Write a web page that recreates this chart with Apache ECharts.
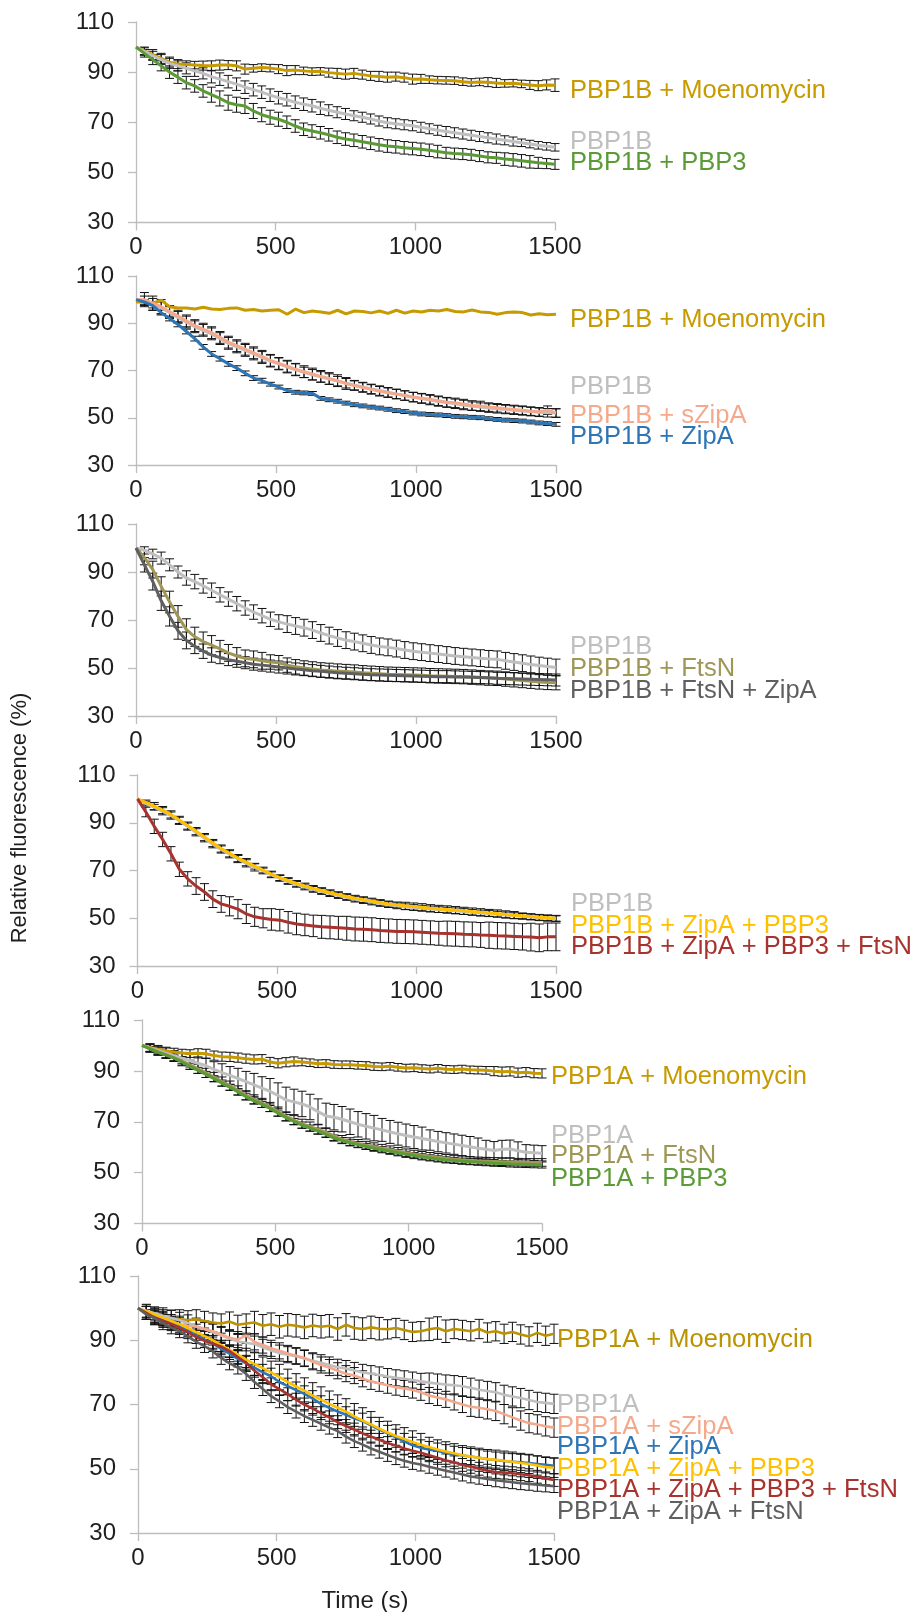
<!DOCTYPE html>
<html><head><meta charset="utf-8">
<script src="https://cdn.jsdelivr.net/npm/echarts@6/dist/echarts.min.js"></script>
<style>html,body{margin:0;padding:0;background:#fff}#c{width:911px;height:1612px}</style>
</head><body><div id="c"></div>
<script>
// ---------- DATA ----------
const timeS = [0,30,60,90,120,150,180,210,240,270,300,330,360,390,420,450,480,510,540,570,600,630,660,690,720,750,780,810,840,870,900,930,960,990,1020,1050,1080,1110,1140,1170,1200,1230,1260,1290,1320,1350,1380,1410,1440,1470,1500];
const xTicks = [0,500,1000,1500];
const yTicks = [30,50,70,90,110];

// Panel 1
const p1Names = ['PBP1B + Moenomycin','PBP1B','PBP1B + PBP3'];
const p1Moeno = [100,98.5,97,95.5,94,93.2,93,92.8,92.6,92.5,92.8,92.8,92.5,91.2,91.5,91.8,91.6,91.2,90.6,90.8,90.5,90.2,90.3,89.8,89.5,89.2,89.5,89,88.5,88.3,88,88.2,87.8,87.2,87.3,87,86.8,86.7,86.6,86.2,85.9,86.1,86,85.7,85.5,85.6,85.3,84.9,84.6,84.9,84.8];
const p1MoenoErr = [0,1.5,2,2,2,1.8,1.5,1.5,1.8,2,2,1.8,2,2,1.5,1.5,1.5,1.8,2,1.8,1.5,1.5,1.5,1.8,2,2,2,1.8,1.8,2,2,1.8,1.8,2,1.8,1.5,1.5,1.5,1.5,1.5,1.5,1.5,1.8,1.8,1.5,1.5,1.5,1.8,2,2,2.5];
const p1Gray = [100,98.2,96.5,95,93.5,92.5,91.5,90.5,89.5,88.2,87.2,86.2,85.2,84,83,82,80.8,79.8,79,78,77.2,76.6,75.6,74.8,74,73.3,72.6,72,71.3,70.5,69.8,69.4,69,68.6,68,67.4,66.8,66.3,65.8,65.3,64.8,64.3,63.8,63.3,62.8,62.3,61.8,61.3,60.8,60.4,60];
const p1GrayErr = [0,1.5,1.8,2,2,2,2.2,2.2,2.2,2.5,2.5,2.5,2.5,2.5,2.5,2.5,2.5,2.5,2.5,2.5,2.5,2.5,2.5,2.2,2.2,2.2,2,2,2,2,2,2,2,2,2,2,2,2,2,2,2,2,2,2,1.8,1.8,1.5,1.5,1.5,1.5,1.5];
const p1Green = [100,97.5,95,92.5,90,88,85.8,84.5,82.5,81,79.5,77.8,77,76.5,74.5,73,72,71.2,70,68.5,67.2,66.5,65.8,65,64,63.3,62.8,62.2,61.6,61,60.5,60.2,59.8,59.5,59.2,58.8,58.3,57.8,57.5,57.3,57,56.5,56,55.8,55.3,55,54.6,54.2,53.8,53.5,53.2];
const p1GreenErr = [0,1.5,2,2,2.5,2.5,2.5,2.5,2.5,3,3,3,3,3,3,2.8,2.8,2.8,2.5,2.5,2.5,2.5,2.5,2.5,2.5,2.5,2.5,2.5,2.5,2.5,2.5,2.5,2.5,2.5,2.5,2.5,2.5,2.2,2.2,2.2,2.2,2.2,2.2,2.2,2.5,2.5,2.5,2.5,2.2,2,2];

// Panel 2
const p2Names = ['PBP1B + Moenomycin','PBP1B','PBP1B + sZipA','PBP1B + ZipA'];
const p2Moeno = [99,99,98.5,99.8,97,96.5,96.5,96,96.8,96,95.8,96.3,96.5,95.5,95.8,95.2,95.5,95.7,93.8,96,94.5,95.2,94.8,94.2,95.5,94,95.2,95,94.4,95.2,94.2,95.5,94.3,95.2,94.8,95.5,95.2,95.8,95,94.8,95.6,94.8,94.6,93.8,94.5,94.8,94.5,93.5,94,93.6,93.8];
const p2Gray = [100,99.5,98,96.5,94.5,92.5,90.5,88.5,87,85.5,83.5,81.5,80,78.5,77,75.5,74,72.8,71.5,70.3,69.2,68.2,67.3,66.4,65.5,64.6,63.8,63,62.2,61.5,60.8,60.1,59.4,58.7,58.1,57.5,56.9,56.4,55.9,55.4,54.9,54.5,54.1,53.8,53.5,53.2,52.9,52.6,52.3,52.1,52];
const p2GrayErr = [0,2,2.5,2.5,2.5,2.5,2.5,2.5,2.5,2.5,2.5,2.5,2.5,2.5,2.5,2.5,2.5,2.5,2.5,2.5,2.2,2.2,2.2,2.2,2,2,2,2,2,2,2,2,2,2,2,2,2,2,2,2,1.8,1.8,1.8,1.8,1.8,1.8,1.8,1.8,1.8,1.8,1.8];
const p2Szipa = [100,100,98.5,97,95,93,91,89,87.5,86,84,82,80.5,79,77.5,76,74.3,73,71.8,70.5,69.5,68.5,67.5,66.6,65.7,64.5,63.6,62.8,62,61.2,60.6,60,59.4,58.8,58.3,57.8,57.2,56.6,56.3,55.8,55.2,55,54.5,54.2,53.8,53.5,53.2,52.8,52.5,53.2,52];
const p2SzipaErr = [0,3,3,3,2.5,2.5,2.5,2.5,2.5,2.5,2.5,2.5,2.5,2.5,2.5,2.5,2.5,2.5,2.5,2.5,2.5,2.5,2.5,2.5,2.5,2.5,2,2,2,2,2,2,2,2,2,2,2,2,2,2,2,2,1.8,1.8,1.8,1.8,1.8,1.8,1.8,1.8,1.8];
const p2Zipa = [100,99,97.5,94.5,92,89.5,86.5,83.5,80,77,75,72.8,71,68.8,66.8,65.7,64.2,63,61.5,60.8,60.5,60.3,58.2,57.6,57,56.2,55.5,55,54.5,54.1,53.6,53,52.6,52,51.6,51.4,51.2,50.9,50.6,50.4,50.2,50,49.6,49.3,49,48.8,48.6,48.2,47.8,47.5,47.2];
const p2ZipaErr = [0,1,1,1,1,1,1,1,1,1,1,1,1,1,1,1,0.8,0.8,0.8,0.8,0.8,0.8,0.8,0.8,0.8,0.8,0.8,0.8,0.8,0.8,0.8,0.8,0.8,0.8,0.8,0.8,0.8,0.8,0.8,0.8,0.8,0.8,0.8,0.8,0.8,0.8,0.8,0.8,0.8,0.8,0.8];

// Panel 3
const p3Names = ['PBP1B','PBP1B + FtsN','PBP1B + FtsN + ZipA'];
const p3Gray = [100,99,97.5,95.8,93,90,87.5,86,84.2,82.4,80.5,78.7,76.8,75,73.3,71.8,70.3,69.2,68.3,67.5,66.8,65.8,64.6,63.5,62.5,61.6,61,60.3,59.6,59,58.6,58.1,57.5,57,56.6,56.2,55.8,55.4,55,54.7,54.4,54.1,53.8,53.6,53,52.5,52,51.5,51,50.6,50.2];
const p3GrayErr = [0,1.5,2,2.5,2.5,2.5,3,3,3,3,3,3,3,3,3,3,3,3,3.5,3.5,3.5,3.5,3.5,3.5,3.5,3.5,3.5,3.5,3.5,3.5,3.5,3.5,3.5,3.5,3.5,3.5,3.5,3.5,3.5,3.5,3.5,3.5,3.5,3.5,3.5,3.5,3.5,3.5,3.5,3.5,3.5];
const p3Ftsn = [100,96,91,84,77.5,71.5,66,63,61,59.5,58,56.3,55,54,53.6,53,52.5,52.2,51.2,50.5,50,49.6,49.2,49,48.7,48.5,48.3,48,47.8,47.6,47.4,47.3,47.2,47.1,47,46.8,46.7,46.6,46.5,46.4,46.2,46,45.8,45.7,45.4,45.1,44.8,44.5,44.2,44,43.9];
const p3FtsnErr = [0,3,3.5,4,4.5,4.5,4.5,4,4,4,3.5,3.5,3.5,3.5,3.5,3.5,3,3,3,3,3,3,3,3,3,3,3,3,3,3,3,3,3,3,3,3,3,3,3,3,3,3,3,3,3,3,3,3,3,3,3];
const p3FtsnZipa = [100,93,86,78,71.5,65.5,61.5,59,57,55.4,54.3,53.5,52.8,52.2,51.6,51.2,50.8,50.4,50,49.6,49.3,48.9,48.6,48.3,48,47.8,47.6,47.4,47.2,47.1,47,46.9,46.8,46.7,46.6,46.5,46.4,46.4,46.3,46.2,46.1,46,45.9,45.7,45.6,45.5,45.4,45.3,45.2,45.1,45];
const p3FtsnZipaErr = [0,3,3.5,4,4,3.5,3.5,3,3,3,2.5,2.5,2.5,2.5,2.5,2.5,2.5,2.5,2.5,2.5,2.5,2.5,2.5,2.5,2.5,2.5,2.5,2.5,2.5,2.5,2.5,2.5,2.5,2.5,2.5,2.5,2.5,2.5,2.5,2.5,2.5,2.5,2.5,2.5,2.5,2.5,2.5,2.5,2.5,2.5,2.5];

// Panel 4
const p4Names = ['PBP1B','PBP1B + ZipA + PBP3','PBP1B + ZipA + PBP3 + FtsN'];
const p4Gray = [100,98,96.5,94.8,93,90.8,88.4,86,83.5,81,78.8,76.8,74.8,73,71.3,69.8,68.2,66.7,65.4,64.2,63.1,62.1,61.2,60.3,59.5,58.7,58,57.4,56.8,56.2,55.7,55.2,54.8,54.5,54.2,53.9,53.6,53.4,53.1,52.8,52.5,52.2,52,51.7,51.4,51.1,50.8,50.5,50.2,50,49.8];
const p4GrayErr = [0,1,1.2,1.5,1.5,1.5,1.5,1.5,1.5,1.5,1.5,1.5,1.5,1.5,1.5,1.2,1.2,1.2,1.2,1.2,1.2,1.2,1.2,1.2,1.2,1.2,1.2,1.2,1.2,1.2,1.2,1.2,1.2,1.2,1.2,1.2,1.2,1.2,1.2,1.2,1.2,1.2,1.2,1.2,1.2,1.2,1.2,1.2,1.2,1.2,1.2];
const p4ZipaPbp3 = [100,98.5,97,95.3,93.5,91.2,88.8,86.5,84,81.5,79.2,77.2,75.2,73.5,71.8,70.2,68.5,67,65.8,64.6,63.5,62.5,61.6,60.7,59.9,59.1,58.4,57.8,57.2,56.6,56,55.6,55.2,54.9,54.6,54.2,53.9,53.7,53.4,53.1,52.8,52.5,52.2,52,51.6,51.3,51,50.7,50.4,50.2,50];
const p4ZipaPbp3Err = [0,1,1.5,1.5,1.5,1.5,1.5,1.5,1.5,1.5,1.5,1.5,1.5,1.5,1.2,1.2,1.2,1.2,1.2,1.2,1.2,1.2,1.2,1.2,1.2,1.2,1.2,1.2,1.2,1.2,1.2,1.2,1.5,1.5,1.5,1.5,1.5,1.5,1.5,1.5,1.5,1.5,1.5,1.5,1.5,1.5,1.2,1.2,1.2,1.2,1.2];
const p4Red = [100,94.5,88.5,83,77,70.5,66.5,63.5,61,58,56,55,53.8,51.8,50.6,50,49.5,49.2,48.3,47.6,47.2,46.8,46.4,46.2,46,45.8,45.5,45.4,45.2,44.9,44.7,44.5,44.4,44.3,44.1,43.9,43.7,43.6,43.5,43.3,43.2,43,42.9,42.7,42.6,42.4,42.2,42.1,41.8,42.2,42.2];
const p4RedErr = [0,2,3,3,3,3,3,3.5,3.5,3.5,3.5,4,4,4,4,4,4.5,4.5,4.5,4.5,4.5,4.5,4.8,4.8,4.8,5,5,5,5,5,5,5,5,5,5,5,5,5.2,5.2,5.2,5.2,5.2,5.5,5.5,5.5,5.5,5.5,5.8,5.8,5.8,5.8];

// Panel 5
const p5Names = ['PBP1A + Moenomycin','PBP1A','PBP1A + FtsN','PBP1A + PBP3'];
const p5Moeno = [100,99.2,98.5,97.8,97.4,97,96.8,96.9,96.7,96,95.6,95.5,95.2,94.8,94.5,94.6,93.5,93,93.4,93.7,93.5,93.2,92.8,92.9,92.5,92.4,92.4,92.2,92.1,91.7,91.6,91.8,91.4,91.1,91.2,90.9,90.7,91,90.6,90.5,90.7,90.4,90.3,90.2,89.9,89.7,89.8,89.3,89.5,89.1,89];
const p5MoenoErr = [0,1.5,1.5,1.5,1.5,1.5,1.5,1.8,1.8,1.8,1.8,1.8,1.8,1.8,1.8,1.8,1.8,1.8,1.8,1.8,1.5,1.5,1.5,1.5,1.5,1.5,1.5,1.5,1.5,1.5,1.5,1.5,1.5,1.5,1.5,1.5,1.5,1.5,1.5,1.5,1.5,1.5,1.5,1.5,1.8,1.8,1.8,1.8,1.8,1.8,1.8];
const p5Gray = [100,99,98,97,96,95,94,93,92,90.6,89.3,88.2,87,85.8,84.5,83.2,82,80.3,78.6,77.8,77,75.8,74,72.3,71.8,71,70,69,68.2,67.5,66.8,66,65.3,64.6,64,63.4,62.8,62.2,61.7,61.2,60.7,60.2,59.6,59.2,58.7,59.2,59.3,58.6,58,57.8,57.6];
const p5GrayErr = [0,1.5,1.5,2,2,2,2.5,2.5,3,3,3.5,3.5,4,4,4.5,4.5,5,5,5,5,5,5,5,5,5,5,5,5,5,5,4.5,4.5,4.5,4.5,4.5,4.5,4,4,4,4,4,4,4,3.5,3.5,3.5,3.5,3.5,3,3,3];
const p5Ftsn = [100,98.8,97.6,96.4,95.2,93.8,92.4,90.8,89.2,87.6,85.8,84.2,82.3,80.4,78.8,77.4,75.8,74,72.1,70.6,69.2,68.1,67,65.8,64.4,63.1,62.2,61.5,60.8,60.2,59.6,59,58.4,57.8,57.3,56.8,56.4,56,55.6,55.3,55,54.8,54.6,54.5,54.4,54.3,54.2,54.1,54,54,54];
const p5FtsnErr = [0,1.5,1.5,1.5,1.5,1.8,1.8,1.8,1.8,1.8,1.8,1.8,1.8,1.8,1.8,1.8,1.8,1.8,1.8,1.8,1.8,1.8,1.8,1.8,1.8,1.5,1.5,1.5,1.5,1.5,1.5,1.5,1.5,1.5,1.5,1.5,1.5,1.5,1.5,1.5,1.5,1.5,1.5,1.5,1.5,1.5,1.5,1.5,1.5,1.5,1.5];
const p5Pbp3 = [100,98.6,97.3,96.2,95,93.5,91.8,90.2,88.6,86.9,85.2,83.5,81.7,79.8,78.2,76.8,75.2,73.4,71.6,70.1,68.7,67.5,66.3,65,63.6,62.6,61.7,61,60.3,59.6,59,58.4,57.8,57.2,56.7,56.2,55.8,55.4,55,54.8,54.5,54.3,54.1,53.9,53.7,53.6,53.4,53.3,53.2,53.1,53];
const p5Pbp3Err = [0,1,1,1,1.2,1.2,1.2,1.2,1.2,1.2,1.2,1.2,1.2,1.2,1.2,1.2,1.2,1.2,1.2,1.2,1.2,1.2,1.2,1.2,1.2,1.2,1.2,1.2,1.2,1.2,1.2,1.2,1.2,1.2,1.2,1.2,1.2,1.2,1.2,1.2,1.2,1.2,1.2,1.2,1.2,1.2,1.2,1.2,1.2,1.2,1.2];

// Panel 6
const p6Names = ['PBP1A + Moenomycin','PBP1A','PBP1A + sZipA','PBP1A + ZipA','PBP1A + ZipA + PBP3','PBP1A + ZipA + PBP3 + FtsN','PBP1A + ZipA + FtsN'];
const p6Moeno = [100,98.5,97.5,97,96.8,96.5,96.2,96.5,96,95.5,95.2,95.8,94.8,95.2,95.5,94.5,95,94.2,94.8,94.5,94,94.6,94.2,94.5,93.5,94.8,93.8,93.5,94,93.6,93.4,93.8,93.2,92.6,92.8,93.4,93.8,92.8,93.5,93.2,92.8,93.5,92.4,92.8,92,92.6,91.8,91.2,92.3,91.4,92];
const p6MoenoErr = [0,2,2.5,2.5,2.5,3,3,3,3,3,3,3,3,3,3.5,3.5,3.5,3.5,3.5,3.5,3.5,3.5,3.5,3.5,3.5,3.5,3.5,3.5,3.5,3.5,3,3,3,3,3,3.5,3.5,3.5,3,3,3,3,3,3,3,3,3,3,3,3,3];
const p6Gray = [100,99.2,98.4,97.6,96.9,96.2,95.4,94.4,93.5,92.5,91.5,90.5,89.6,89.2,88.8,87.8,86.8,86,85.5,85,84.3,83.6,83,82.3,81.6,81.2,80.6,80,79.6,79.2,78.7,78.3,78,77.6,77.2,76.8,76.5,76.2,76,75.7,75.2,74.6,74.2,73.8,73,72.5,72,71.4,70.8,70.5,70.2];
const p6GrayErr = [0,2,2,2.5,2.5,2.5,2.5,2.5,2.5,2.5,2.5,2.5,2.5,2.5,2.5,2.5,2.5,2.5,2.5,2.5,2.5,2.5,2.5,2.5,2.5,2.5,2.5,2.5,2.5,2.5,2.5,2.5,2.5,2.5,2.5,3,3,3,3,3,3,3,3,3,3,3,3,3,3,3,3];
const p6Szipa = [100,98.5,97.3,96.5,95.5,95,94.5,94.2,93.5,92.8,91.8,90.8,90.2,91.5,89.5,88.5,87.5,86.7,85.9,85.2,84.5,83.3,82.3,81.5,80.5,79.6,79,78,77.2,76.6,76,75.4,75,74.5,73.8,72.8,72.2,71.6,70.8,70,69.3,69,68.5,68,67,66,65,64.2,63.8,63.2,62.8];
const p6SzipaErr = [0,2,2,2,2,2,2,2,2,2.5,2.5,2.5,2.5,2.5,2.5,2.5,2.5,2.5,2.5,2.5,2.5,2.5,2.5,2.5,2.5,2.5,2.5,2.5,2.5,2.5,2.5,2.5,2.5,2.5,2.5,2.5,2.5,2.5,2.5,2.5,3,3,3,3,3,3,3,3,3,3,3];
const p6Zipa = [100,98.5,97.5,96.5,95.3,94.2,93,91.5,90.2,89,87.3,85.8,84.2,82.8,81.5,80,78.8,77,75.7,74.5,73.3,71.8,70.2,69,67.8,66.8,65.7,64.8,63.5,62.2,61,59.8,58.5,57.3,56.5,56,55.5,55,54.5,54.1,53.8,53.4,53,52.7,52.4,52.2,52,51.8,51.5,51.2,50.9];
const p6ZipaErr = [0,2,2,2,2,2,2,2.5,2.5,2.5,2.5,2.5,2.5,2.5,2.5,2.5,2.5,2.5,2.5,2.5,2.5,2.5,2.5,2.5,2.5,2.5,2.5,2.5,2.5,2.5,2.5,2.5,2.5,2.5,2.5,2.5,2.5,2.5,2.5,2.5,2.5,2.5,2.5,2.5,2.5,2.5,2.5,2.5,2.5,2.5,2.5];
const p6ZipaPbp3 = [100,99,98,97,96,95,93.8,92.5,91.3,90,88.5,87,85.5,84,82.6,81.3,80,78.5,77,75.6,74.3,72.8,71.5,70.2,69,67.8,66.3,65,63.8,62.5,61.3,60.2,59.3,58.3,57.5,56.8,56,55.4,54.8,54.2,53.8,53.4,53,52.8,52.5,52.2,51.8,51.5,51,50.5,50.3];
const p6ZipaPbp3Err = [0,2,2,2,2,2.5,2.5,2.5,2.5,2.5,3,3,3,3.5,3.5,3.5,3.5,4,4,4,4,4,4,4,4,4,4,4,4,3.5,3.5,3.5,3.5,3.5,3.5,3,3,3,3,3,3,3,3,3,3,3,3,3,3,3,3];
const p6ZipaPbp3Ftsn = [100,98.5,97,96,95,93.8,92.5,91,89.8,89,88,86.6,84.8,83,80.5,78.5,76.3,74.8,73.2,71.5,70,68.7,67.3,66,64.5,63.3,62.2,61,60,59,58,57.2,56.3,55.6,55,54.2,53.4,52.6,52,51.2,50.6,50,49.4,49,48.8,48.6,48.3,48,47.5,47,46.5];
const p6ZipaPbp3FtsnErr = [0,2,2,2,2,2,2,2,2,2,2,2,2,2,2,2,2,2,2,2,2,2,2,2,2,2,2,2,2,2,2,2,2,2,2,2,2,2,2,2,2,2,2,2,2,2,2,2,2,2,2];
const p6ZipaFtsn = [100,98,96.8,95.3,94,92.8,91.2,89.5,88.2,86.5,84.5,82.8,81.5,79.5,77,74.8,72.6,71,69.2,67.8,66.4,65.2,64,62.8,61.7,60,58.6,57.5,56.3,55.3,54.3,53.3,52.5,51.8,51.3,50.6,50,49.4,48.8,48.2,47.6,47.2,46.8,46.4,46.1,45.8,45.5,45.3,45,44.8,44.6];
const p6ZipaFtsnErr = [0,1.5,2,2,2,2,2,2,2,2,2,2,2,2,2,2,2,2,2,2,2,2,2,2,2,2,2,2,2,2,2,2,2,2,2,2,2,2,2,2,2,2,2,2,2,2,2,2,2,2,2];

// ---------- STYLE / LAYOUT ----------
const FONT = '"Liberation Sans", Arial, Helvetica, sans-serif';
const TXT = '#1f1f1f';
const C = {gold:'#C79A00', gold6:'#BB9300', lgray:'#BFBFBF', green:'#5B9B36', salmon:'#F4A98D',
  blue:'#2E75B6', olive:'#A09656', dgray:'#5F5F5F', yellow:'#FFC000', red:'#A8322D'};
const AX = '#BDBDBD';

const panels = [
  {grid:{left:136, top:22, width:419, height:200.5}, dx:15,
   s:[[p1Moeno,p1MoenoErr,C.gold],[p1Gray,p1GrayErr,C.lgray],[p1Green,p1GreenErr,C.green]],
   names:p1Names, labelY:[82.6,62.1,53.6]},
  {grid:{left:136, top:276, width:420, height:189}, dx:14,
   s:[[p2Moeno,null,C.gold],[p2Gray,p2GrayErr,C.lgray],[p2Szipa,p2SzipaErr,C.salmon],[p2Zipa,p2ZipaErr,C.blue]],
   names:p2Names, labelY:[91.4,63.2,50.9,41.7]},
  {grid:{left:136, top:524, width:420, height:192}, dx:14,
   s:[[p3Gray,p3GrayErr,C.lgray],[p3Ftsn,p3FtsnErr,C.olive],[p3FtsnZipa,p3FtsnZipaErr,C.dgray]],
   names:p3Names, labelY:[58.7,49.6,40.6]},
  {grid:{left:137.5, top:775, width:418.5, height:191}, dx:15,
   s:[[p4Gray,p4GrayErr,C.lgray],[p4ZipaPbp3,p4ZipaPbp3Err,C.yellow],[p4Red,p4RedErr,C.red]],
   names:p4Names, labelY:[55.9,46.8,38]},
  {grid:{left:142, top:1020, width:400, height:203.5}, dx:9,
   s:[[p5Moeno,p5MoenoErr,C.gold],[p5Gray,p5GrayErr,C.lgray],[p5Ftsn,p5FtsnErr,C.olive],[p5Pbp3,p5Pbp3Err,C.green]],
   names:p5Names, labelY:[87.5,64.5,56.7,47.5]},
  {grid:{left:138, top:1276, width:416, height:257}, dx:3,
   s:[[p6Moeno,p6MoenoErr,C.gold6],[p6Gray,p6GrayErr,C.lgray],[p6Szipa,p6SzipaErr,C.salmon],[p6Zipa,p6ZipaErr,C.blue],
      [p6ZipaPbp3,p6ZipaPbp3Err,C.yellow],[p6ZipaPbp3Ftsn,p6ZipaPbp3FtsnErr,C.red],[p6ZipaFtsn,p6ZipaFtsnErr,C.dgray]],
   names:p6Names, labelY:[90,70,63.1,56.8,50,43.4,36.5]}
];

function renderErr(params, api){
  const x = api.value(0), y = api.value(1), e = api.value(2);
  if (!e) return null;
  const a = api.coord([x, y + e]), b = api.coord([x, y - e]);
  const hw = 4.5, st = {stroke:'#111', lineWidth:1};
  return {type:'group', children:[
    {type:'line', shape:{x1:a[0], y1:a[1], x2:b[0], y2:b[1]}, style:st},
    {type:'line', shape:{x1:a[0]-hw, y1:a[1], x2:a[0]+hw, y2:a[1]}, style:st},
    {type:'line', shape:{x1:b[0]-hw, y1:b[1], x2:b[0]+hw, y2:b[1]}, style:st}
  ]};
}

const grids = [], xAxes = [], yAxes = [], series = [];
panels.forEach((p, i) => {
  grids.push(Object.assign({containLabel:false}, p.grid));
  xAxes.push({type:'value', gridIndex:i, min:xTicks[0], max:xTicks[xTicks.length-1], interval:xTicks[1]-xTicks[0],
    axisLine:{onZero:false, lineStyle:{color:AX, width:1.3}},
    axisTick:{show:true, length:8, lineStyle:{color:AX, width:1.3}},
    axisLabel:{fontSize:24, color:TXT, margin:13, fontFamily:FONT, formatter:(v) => String(v)},
    splitLine:{show:false}});
  yAxes.push({type:'value', gridIndex:i, min:yTicks[0], max:yTicks[yTicks.length-1], interval:yTicks[1]-yTicks[0],
    axisLine:{show:true, onZero:false, lineStyle:{color:AX, width:1.3}},
    axisTick:{show:true, length:8, lineStyle:{color:AX, width:1.3}},
    axisLabel:{fontSize:24, color:TXT, margin:22, fontFamily:FONT, formatter:(v) => String(v)},
    splitLine:{show:false}});
  p.s.forEach((s, k) => {
    const vals = s[0], errs = s[1], col = s[2];
    const n = Math.min(timeS.length, vals.length);
    if (errs) {
      const ed = [];
      for (let j = 0; j < n; j++) ed.push([timeS[j], vals[j], errs[j] || 0]);
      series.push({type:'custom', xAxisIndex:i, yAxisIndex:i, renderItem:renderErr, data:ed,
        encode:{x:0, y:1}, z:2, silent:true, animation:false});
    }
    const ld = [];
    for (let j = 0; j < n; j++) ld.push([timeS[j], vals[j]]);
    series.push({type:'line', name:p.names[k], xAxisIndex:i, yAxisIndex:i, data:ld, symbol:'none', showSymbol:false,
      lineStyle:{color:col, width: i === 5 ? 2.6 : 3}, itemStyle:{color:col}, z:3 + k*0.01, silent:true, animation:false});
  });
});

const chart = echarts.init(document.getElementById('c'), null, {renderer:'canvas'});
chart.setOption({animation:false, grid:grids, xAxis:xAxes, yAxis:yAxes, series:series});

const g = [];
panels.forEach((p, i) => {
  p.names.forEach((nm, k) => {
    const pt = chart.convertToPixel({xAxisIndex:i, yAxisIndex:i}, [xTicks[xTicks.length-1], p.labelY[k]]);
    g.push({type:'text', x:pt[0] + p.dx, y:pt[1], silent:true,
      style:{text:nm, fill:p.s[k][2], fontSize:25.5, fontFamily:FONT, align:'left', verticalAlign:'middle'}});
  });
});
g.push({type:'text', x:20, y:818, rotation:Math.PI/2, silent:true,
  style:{text:'Relative fluorescence (%)', fill:TXT, fontSize:22, fontFamily:FONT, align:'center', verticalAlign:'middle'}});
g.push({type:'text', x:365, y:1601, silent:true,
  style:{text:'Time (s)', fill:TXT, fontSize:24, fontFamily:FONT, align:'center', verticalAlign:'middle'}});
chart.setOption({graphic:g});
</script>
</body></html>
